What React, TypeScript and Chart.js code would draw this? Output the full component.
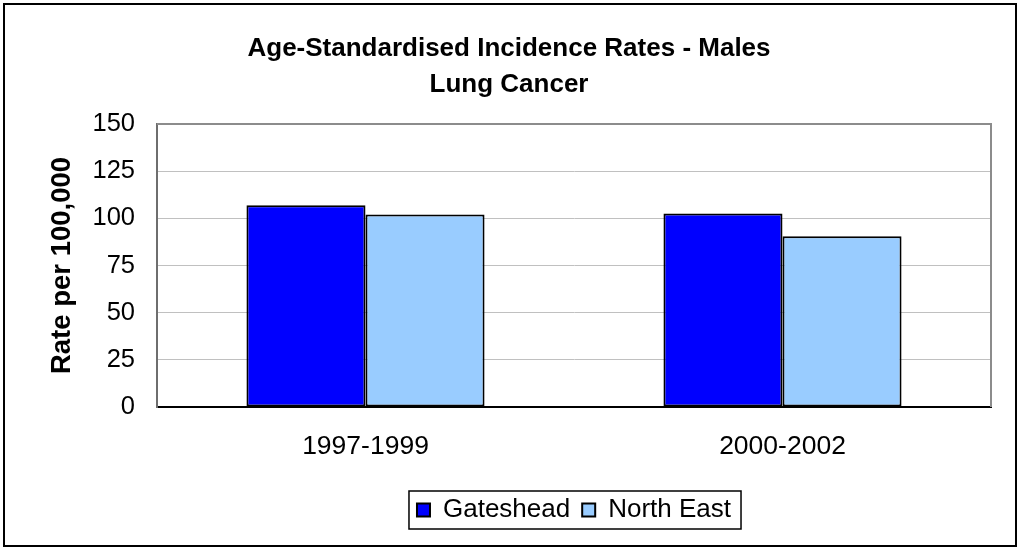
import React, { useEffect, useRef } from 'react';
import { Chart, registerables } from 'chart.js';

Chart.register(...registerables);

const categories = ['1997-1999', '2000-2002'];
const seriesNames = ['Gateshead', 'North East'];
const gatesheadValues = [107, 102.5];
const northEastValues = [102, 90.5];
const seriesColors = ['#0000FF', '#99CCFF'];
const yMin = 0;
const yMax = 150;
const yStep = 25;
const titleLines = ['Age-Standardised Incidence Rates - Males', 'Lung Cancer'];
const yAxisTitle = 'Rate per 100,000';

const FONT = "'Liberation Sans', Arial, Helvetica, sans-serif";

const framePlugin = {
  id: 'frame',
  beforeDraw(chart: any) {
    const { ctx, width, height } = chart;
    ctx.save();
    ctx.fillStyle = '#ffffff';
    ctx.fillRect(0, 0, width, height);
    ctx.restore();
  },
  afterDraw(chart: any) {
    const { ctx, chartArea: a } = chart;
    ctx.save();
    // plot area top & right edges
    ctx.strokeStyle = '#8c8c8c';
    ctx.lineWidth = 2;
    ctx.beginPath();
    ctx.moveTo(a.left, a.top);
    ctx.lineTo(a.right, a.top);
    ctx.lineTo(a.right, a.bottom);
    ctx.stroke();
    // outer chart border
    ctx.strokeStyle = '#000000';
    ctx.lineWidth = 2;
    ctx.strokeRect(4, 4, 1012, 542);
    // legend border
    const lg = chart.legend;
    if (lg && lg.legendHitBoxes && lg.legendHitBoxes.length) {
      const hb = lg.legendHitBoxes;
      const first = hb[0];
      const last = hb[hb.length - 1];
      const left = first.left - 8;
      const right = last.left + last.width + 10;
      const top = first.top - 6;
      const bottom = first.top + first.height + 6;
      ctx.strokeStyle = '#000000';
      ctx.lineWidth = 1.5;
      ctx.strokeRect(left, top, right - left, bottom - top);
    }
    ctx.restore();
  },
};

export default function App() {
  const canvasRef = useRef<HTMLCanvasElement | null>(null);

  useEffect(() => {
    if (!canvasRef.current) return;
    const chart = new Chart(canvasRef.current, {
      type: 'bar',
      data: {
        labels: categories,
        datasets: [
          {
            label: seriesNames[0],
            data: gatesheadValues,
            backgroundColor: seriesColors[0],
            borderColor: '#000000',
            borderWidth: 2,
            borderSkipped: false,
            categoryPercentage: 0.571,
            barPercentage: 1,
          },
          {
            label: seriesNames[1],
            data: northEastValues,
            backgroundColor: seriesColors[1],
            borderColor: '#000000',
            borderWidth: 2,
            borderSkipped: false,
            categoryPercentage: 0.571,
            barPercentage: 1,
          },
        ],
      },
      options: {
        animation: false,
        responsive: true,
        maintainAspectRatio: false,
        layout: { padding: { top: 0, left: 0, right: 0, bottom: 15 } },
        scales: {
          x: {
            grid: { display: false, drawTicks: false },
            border: { display: true, color: '#000000', width: 2 },
            ticks: {
              color: '#000000',
              font: { family: FONT, size: 26.5 },
              padding: 24,
              maxRotation: 0,
            },
            afterFit: (scale: any) => {
              scale.height = 78;
            },
          },
          y: {
            min: yMin,
            max: yMax,
            grid: { color: '#c0c0c0', lineWidth: 1, drawTicks: false },
            border: { display: true, color: '#6e6e6e', width: 2 },
            ticks: {
              stepSize: yStep,
              color: '#000000',
              font: { family: FONT, size: 25.5 },
              padding: 22,
            },
            title: {
              display: true,
              text: yAxisTitle,
              color: '#000000',
              font: { family: FONT, size: 27.5, weight: 'bold' },
              padding: { top: 46, bottom: 0 },
            },
            afterFit: (scale: any) => {
              scale.width = 157;
            },
          },
          yRight: {
            type: 'linear',
            position: 'right',
            display: true,
            grid: { display: false, drawTicks: false },
            border: { display: false },
            ticks: { display: false },
            afterFit: (scale: any) => {
              scale.width = 27;
            },
          },
        },
        plugins: {
          title: {
            display: true,
            text: titleLines,
            color: '#000000',
            font: { family: FONT, size: 26, weight: 'bold', lineHeight: 36 / 26 },
            padding: { top: 31, bottom: 21 },
          },
          legend: {
            display: true,
            position: 'bottom',
            fullSize: false,
            labels: {
              color: '#000000',
              font: { family: FONT, size: 26 },
              boxWidth: 13,
              boxHeight: 13,
              padding: 12,
            },
          },
          tooltip: { enabled: false },
        },
      },
      plugins: [framePlugin],
    } as any);
    return () => chart.destroy();
  }, []);

  return (
    <div style={{ position: 'fixed', left: 0, top: 0, width: 1018, height: 548 }}>
      <canvas ref={canvasRef} />
    </div>
  );
}
